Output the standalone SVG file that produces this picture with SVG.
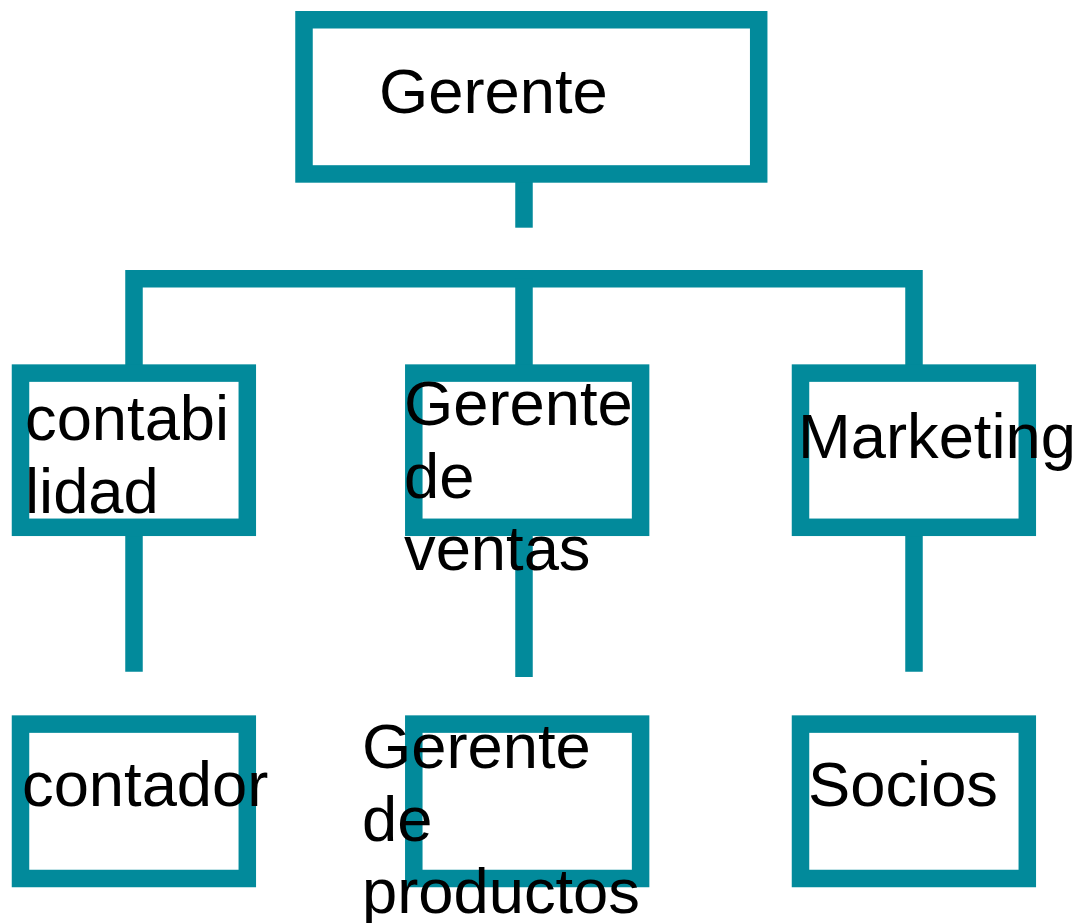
<svg xmlns="http://www.w3.org/2000/svg" width="1080" height="923" viewBox="0 0 1080 923">
<style>
.box{fill:#ffffff;stroke:#028A9B;stroke-width:17.5}
.ln{fill:none;stroke:#028A9B;stroke-width:17.5;stroke-linejoin:miter;stroke-linecap:butt}
text{font-family:"Liberation Sans",Arial,sans-serif;font-size:63.3px;fill:#000000}
</style>
<rect width="1080" height="923" fill="#ffffff"/>
<g id="connectors">
<line class="ln" x1="524" y1="182" x2="524" y2="227.7"/>
<polyline class="ln" points="134,365 134,278.8 914,278.8 914,365"/>
<line class="ln" x1="524" y1="278.8" x2="524" y2="365"/>
<line class="ln" x1="134" y1="536" x2="134" y2="671.7"/>
<line class="ln" x1="524" y1="536" x2="524" y2="677"/>
<line class="ln" x1="914" y1="536" x2="914" y2="671.7"/>
</g>
<g id="gerente">
<rect class="box" x="304" y="19.75" width="454.7" height="154.2"/>
<text x="379" y="113">Gerente</text>
</g>
<g id="contabilidad">
<rect class="box" x="20.5" y="373.1" width="226.8" height="154.2"/>
<text x="25" y="440">contabi</text>
<text x="25" y="512.5">lidad</text>
</g>
<g id="gerente-ventas">
<rect class="box" x="413.8" y="373.1" width="226.8" height="154.2"/>
<text x="404" y="425">Gerente</text>
<text x="404" y="497.5">de</text>
<text x="404" y="570">ventas</text>
</g>
<g id="marketing">
<rect class="box" x="800.5" y="373.1" width="226.8" height="154.2"/>
<text x="798" y="458">Marketing</text>
</g>
<g id="contador">
<rect class="box" x="20.5" y="724.1" width="226.8" height="154.4"/>
<text x="22" y="806">contador</text>
</g>
<g id="gerente-productos">
<rect class="box" x="413.8" y="724.1" width="226.8" height="154.4"/>
<text x="362" y="768">Gerente</text>
<text x="362" y="840.5">de</text>
<text x="362" y="913.3">productos</text>
</g>
<g id="socios">
<rect class="box" x="800.5" y="724.1" width="226.8" height="154.4"/>
<text x="808" y="806">Socios</text>
</g>
</svg>
